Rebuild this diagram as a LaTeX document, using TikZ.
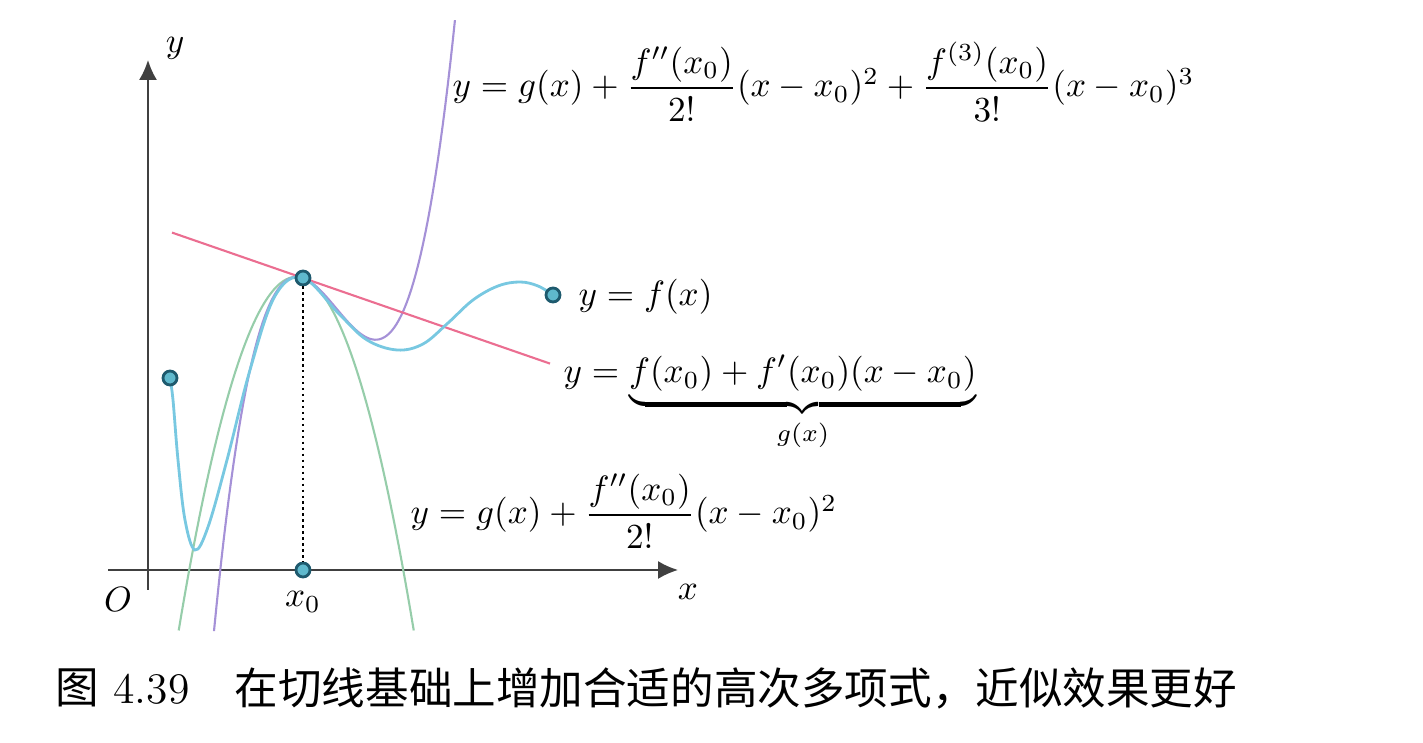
\documentclass[tikz,border=0pt]{standalone}
\usepackage{amsmath}
\usepackage{fontspec}
\newfontfamily\cjk{Noto Sans CJK SC}
\usetikzlibrary{arrows.meta}
\definecolor{fcurve}{RGB}{120,200,225}
\definecolor{tancol}{RGB}{235,110,145}
\definecolor{quadcol}{RGB}{150,205,170}
\definecolor{cubcol}{RGB}{165,145,215}
\definecolor{dotring}{RGB}{30,90,110}
\definecolor{dotfill}{RGB}{95,185,205}

\begin{document}
\begin{tikzpicture}[
  dot/.style={circle, draw=dotring, fill=dotfill, line width=0.8pt, minimum size=1.4mm, inner sep=0pt},
  lbl/.style={inner sep=0pt},
  axis/.style={black!75, line width=0.5pt, -{Latex[length=2mm,width=1.8mm]}}
]
\useasboundingbox (-1.48,-1.73) rectangle (12.75,5.70);

% axes
\coordinate (xa) at (-0.40,0);
\coordinate (xb) at (5.30,0);
\coordinate (ya) at (0,-0.20);
\coordinate (yb) at (0,5.10);
\draw[axis] (xa) -- (xb);
\draw[axis] (ya) -- (yb);
\node at (-0.30,-0.30) (O) {$O$};
\node at (5.40,-0.22) (xl) {$x$};
\node at (0.27,5.22) (yl) {$y$};

% curves
{
\draw[quadcol, line width=0.6pt, domain=0.307:2.658, samples=80]
  plot (\x, {2.92-0.3466*(\x-1.55)-2.56*(\x-1.55)*(\x-1.55)});
\draw[cubcol, line width=0.6pt, domain=0.66:3.07, samples=100]
  plot (\x, {2.92-0.3466*(\x-1.55)-2.56*(\x-1.55)*(\x-1.55)+2.57*(\x-1.55)*(\x-1.55)*(\x-1.55)});

\coordinate (tanA) at (0.24,3.374);
\coordinate (tanB) at (4.02,2.064);
\draw[tancol, line width=0.6pt] (tanA) -- (tanB);

\draw[fcurve, line width=0.8pt] plot[smooth, tension=0.6] coordinates {
  (0.22,1.92) (0.25,1.70) (0.30,1.10) (0.37,0.50) (0.47,0.20) (0.60,0.43)
  (0.79,1.10) (1.02,2.00) (1.27,2.74) (1.55,2.92) (1.92,2.55) (2.19,2.30)
  (2.49,2.20) (2.75,2.26) (3.00,2.47) (3.25,2.70) (3.50,2.84) (3.72,2.88)
  (3.90,2.84) (4.05,2.75)};
}

% points
\node[dot] (dotL) at (0.22,1.92) {};
\node[dot] (dotR) at (4.05,2.75) {};
\node[dot] (dotP) at (1.55,2.92) {};
\node[dot] (dotX) at (1.55,0) {};
\draw[densely dotted, line width=0.7pt] (dotP) -- (dotX);
\node at (1.55,-0.32) (x0l) {$x_0$};

% labels
\node[lbl, anchor=west] (fl) at (4.30,2.73) {$y=f(x)$};
\node[lbl, anchor=base west] (tl) at (4.15,1.87)
  {$y=\underbrace{f(x_0)+f'(x_0)(x-x_0)}_{g(x)}$};
\node[lbl, anchor=base west] (ql) at (2.62,0.46)
  {$y=g(x)+\dfrac{f''(x_0)}{2!}(x-x_0)^2$};
\node[lbl, anchor=base west] (cl) at (3.04,4.73)
  {$y=g(x)+\dfrac{f''(x_0)}{2!}(x-x_0)^2+\dfrac{f^{(3)}(x_0)}{3!}(x-x_0)^3$};

% caption
\node[lbl, anchor=west, font=\fontsize{12.4}{14}\selectfont] (fig) at (-0.93,-1.18)
  {{\cjk 图} 4.39};
\node[lbl, anchor=west, font=\fontsize{12.4}{14}\selectfont] (cap) at (0.86,-1.18)
  {\cjk 在切线基础上增加合适的高次多项式，近似效果更好};

\end{tikzpicture}
\end{document}
